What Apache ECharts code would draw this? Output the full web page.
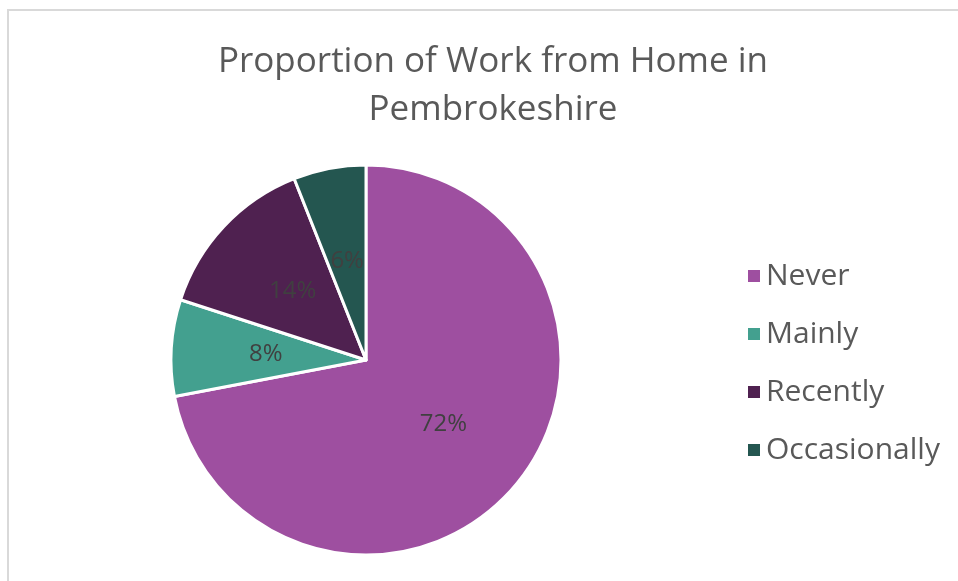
<!DOCTYPE html>
<html>
<head>
<meta charset="utf-8">
<script src="https://cdn.jsdelivr.net/npm/echarts@6/dist/echarts.min.js"></script>
<style>
  html, body { margin: 0; padding: 0; background: #fff; }
  #pie { width: 958px; height: 581px; }
</style>
</head>
<body>
<div id="pie"></div>
<script>
var categories = ['Never', 'Mainly', 'Recently', 'Occasionally'];
var shares = [72, 8, 14, 6];
var colors = ['#9e4fa0', '#43a08f', '#4f2150', '#245650'];

(function() {
    var myChart = echarts.init(document.getElementById("pie"));
    var font = '"Open Sans", "Noto Sans", sans-serif';
    var data = categories.map(function(name, i) {
        return { name: name, value: shares[i] };
    });
    var option = {
        color: colors,
        textStyle: { fontFamily: font },
        graphic: [{
            type: 'rect',
            shape: { x: 8, y: 10, width: 1000, height: 700 },
            style: { fill: 'none', stroke: '#d9d9d9', lineWidth: 2 },
            silent: true
        }],
        title: {
            text: 'Proportion of Work from Home in\nPembrokeshire',
            left: 488,
            top: 33,
            textAlign: 'center',
            textStyle: {
                fontFamily: font,
                fontSize: 35,
                fontWeight: 'normal',
                color: '#595959',
                lineHeight: 48
            }
        },
        legend: {
            orient: 'vertical',
            left: 741,
            top: 256,
            itemWidth: 14,
            itemHeight: 14,
            itemGap: 28,
            icon: 'rect',
            textStyle: { fontFamily: font, fontSize: 30, color: '#595959' },
            data: categories
        },
        series: [{
            type: 'pie',
            center: [366, 360],
            radius: 195,
            startAngle: 90,
            clockwise: true,
            itemStyle: { borderColor: '#ffffff', borderWidth: 3 },
            label: {
                show: true,
                position: 'inside',
                formatter: '{c}%',
                fontFamily: font,
                fontSize: 24,
                color: '#404040'
            },
            labelLine: { show: false },
            emphasis: { disabled: true },
            data: data
        }]
    };
    myChart.setOption(option);
    window.addEventListener("resize", function() {
        myChart.resize();
    });
})();
</script>
</body>
</html>
